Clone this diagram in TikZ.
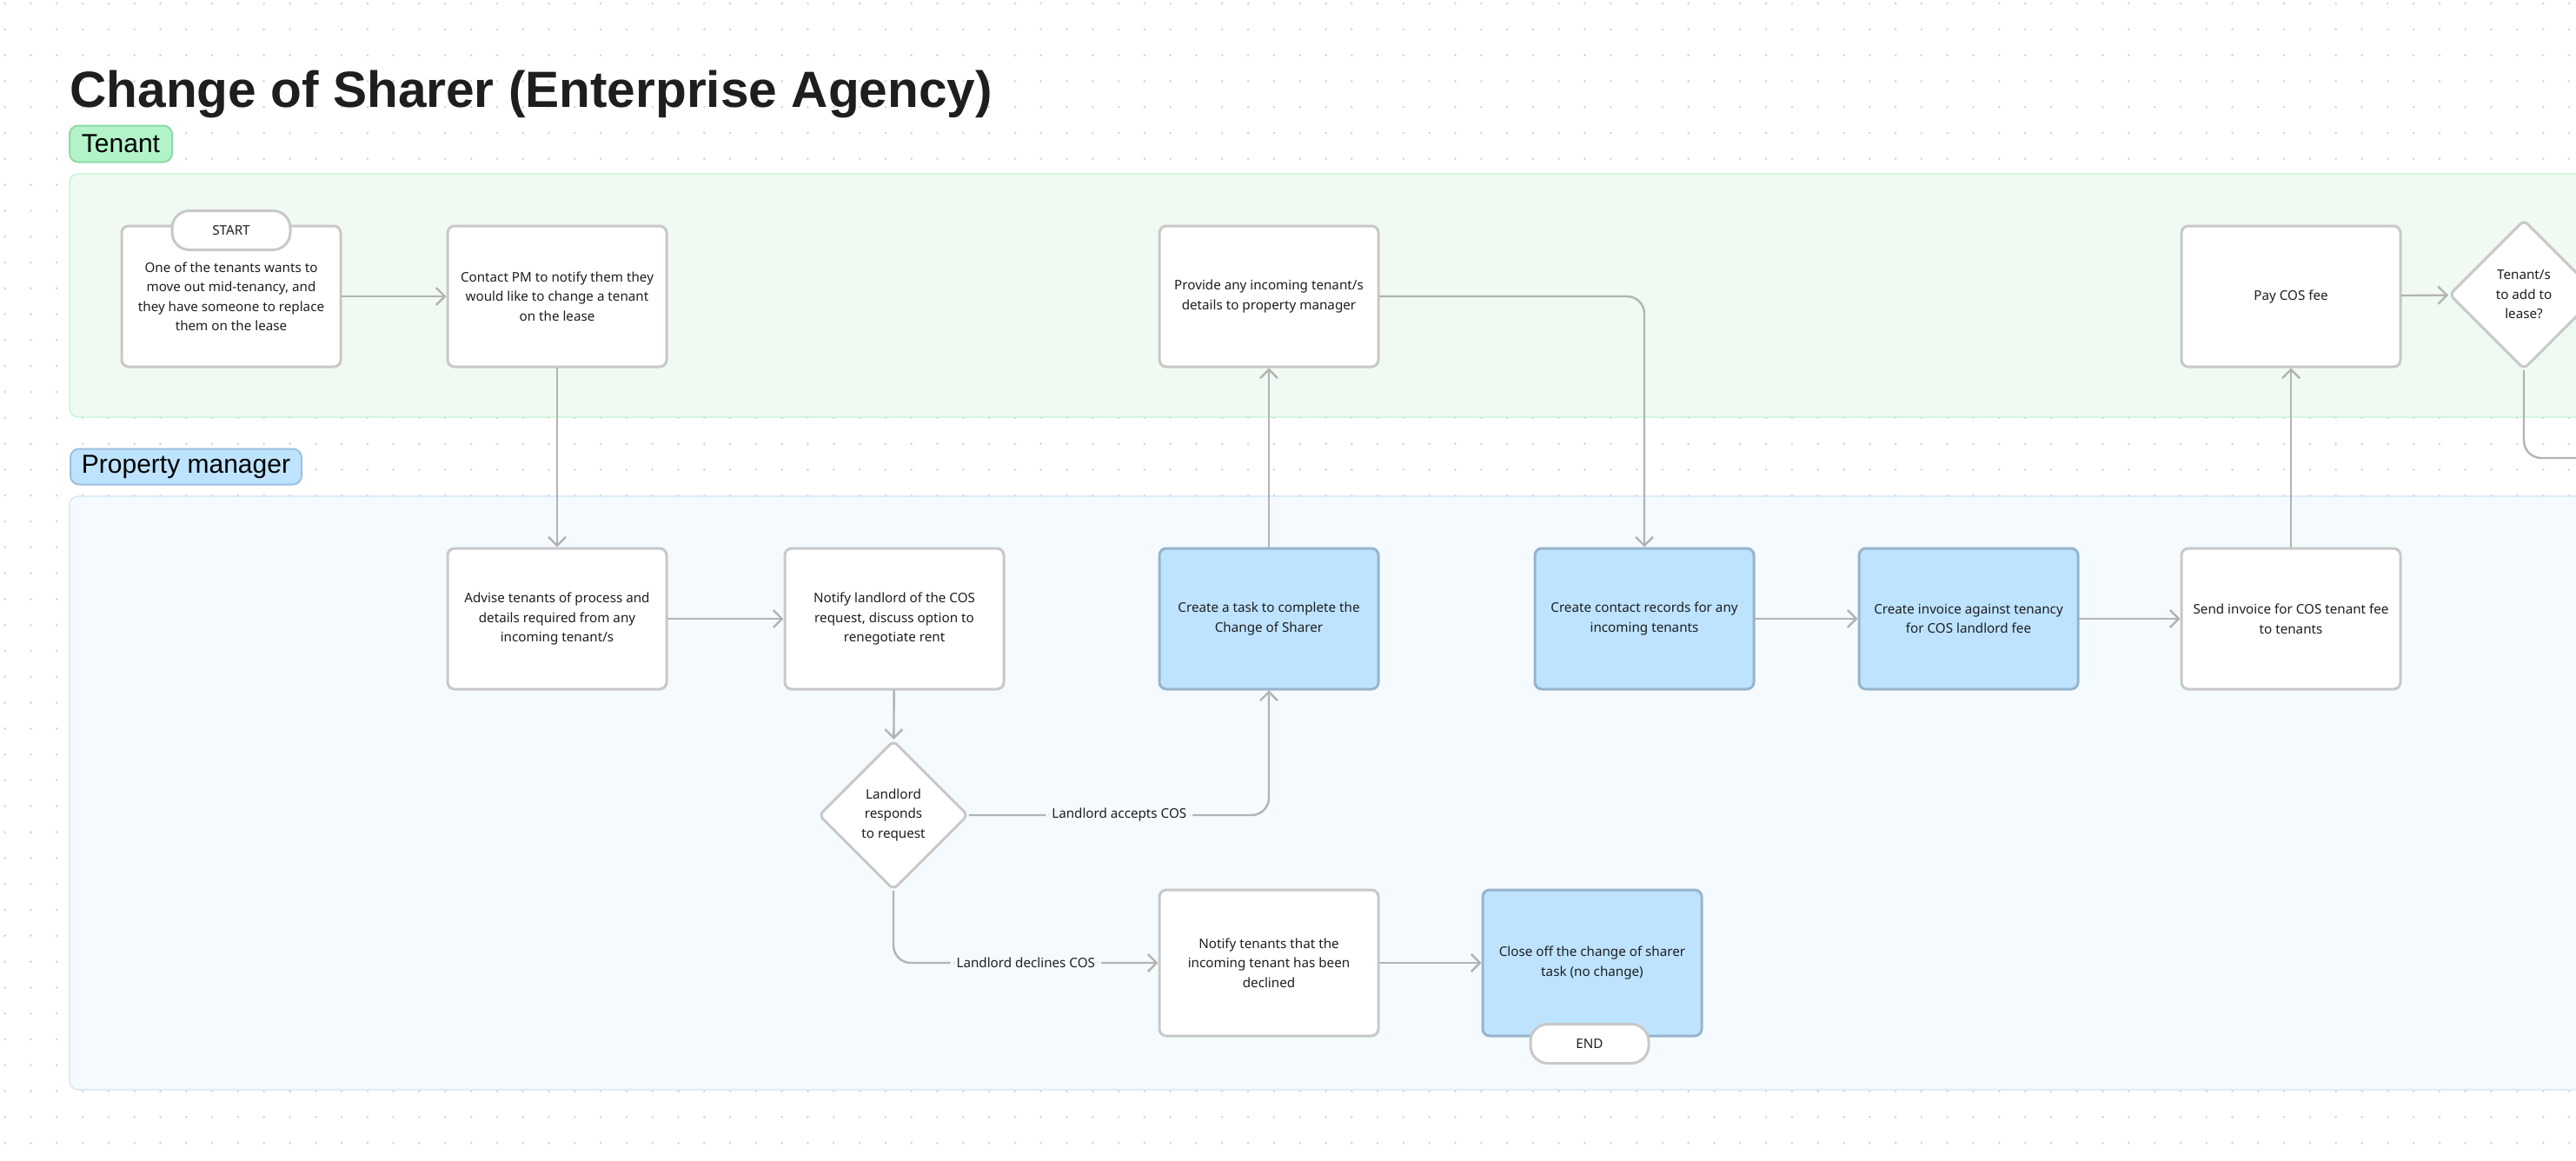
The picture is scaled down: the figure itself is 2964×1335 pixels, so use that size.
\documentclass[tikz,border=0pt]{standalone}
\usepackage{fontspec}
\setmainfont{Noto Sans}
\newfontfamily\titlefont{Liberation Sans}
\usetikzlibrary{arrows.meta,positioning,shapes.geometric}
\definecolor{cosink}{HTML}{1E1E1E}
\definecolor{cosedge}{HTML}{C8C8C8}
\definecolor{cosflow}{HTML}{B3B3B3}
\definecolor{cosdot}{HTML}{D2D2D2}
\definecolor{taskfill}{HTML}{BDE3FF}
\definecolor{taskedge}{HTML}{97B4CC}
\definecolor{tenfill}{HTML}{F0FAF3}
\definecolor{tenedge}{HTML}{C4F1D3}
\definecolor{tenlbl}{HTML}{B3F3C8}
\definecolor{tenlbledge}{HTML}{8FD9A8}
\definecolor{pmfill}{HTML}{F5FAFF}
\definecolor{pmedge}{HTML}{CDE6FA}
\definecolor{pmlbl}{HTML}{BDE3FF}
\definecolor{pmlbledge}{HTML}{9DC0DE}
\tikzset{
  proc/.style={rectangle, draw=cosedge, fill=white, line width=1.5pt, rounded corners=4pt, align=center, minimum width=126pt, minimum height=81pt, inner sep=2pt},
  task/.style={proc, draw=taskedge, fill=taskfill},
  dec/.style={diamond, aspect=1, draw=cosedge, fill=white, line width=1.5pt, rounded corners=3pt, align=center, minimum size=86pt, inner sep=0pt},
  term/.style={rectangle, draw=cosedge, fill=white, line width=1.5pt, rounded corners=10pt, minimum width=68pt, minimum height=22.5pt, inner sep=0pt},
  lane/.style={line width=0.6pt, rounded corners=5pt},
  lanelbl/.style={rectangle, rounded corners=5pt, line width=1pt, inner sep=0pt, font=\titlefont\fontsize{15}{17}\selectfont, text=black},
  flow/.style={draw=cosflow, line width=1.2pt, line cap=round, rounded corners=10pt, -{Straight Barb[length=5pt, width=10pt, line width=1.2pt]}},
  elbl/.style={fill=pmfill, inner xsep=3.5pt, inner ysep=1pt},
}
\begin{document}
\begin{tikzpicture}[x=0.5pt, y=-0.5pt, font=\fontsize{7.6}{11.25}\selectfont, text=cosink]
  \useasboundingbox (0,0) rectangle (2964,1335);
  \clip (0,0) rectangle (2964,1335);
  % dotted canvas
  \foreach \i in {0,...,99}
    \foreach \j in {0,...,44}
      \fill[cosdot] (5.7+\i*29.8, 4+\j*29.8) circle (0.7pt);
  % title and swimlanes
  \node[anchor=base west, inner sep=0pt, font=\titlefont\bfseries\fontsize{29.3}{32}\selectfont, text=cosink] (title) at (80,123) {Change of Sharer (Enterprise Agency)};
  \fill[lane, fill=tenfill, draw=tenedge] (80,200) rectangle (3100,480);
  \fill[lane, fill=pmfill, draw=pmedge] (80,571) rectangle (3100,1254);
  \node[lanelbl, fill=tenlbl, draw=tenlbledge, minimum width=59pt, minimum height=21pt] (tenant) at (139,165.5) {Tenant};
  \node[lanelbl, fill=pmlbl, draw=pmlbledge, minimum width=133pt, minimum height=20.5pt] (pm) at (214,537) {Property manager};
  % tenant lane
  \node[proc] (want) at (266,341) {One of the tenants wants to\\move out mid-tenancy, and\\they have someone to replace\\them on the lease};
  \node[term] (start) at (266,265) {START};
  \node[proc] (contact) at (641,341) {Contact PM to notify them they\\would like to change a tenant\\on the lease};
  \node[proc] (provide) at (1460,341) {Provide any incoming tenant/s\\details to property manager};
  \node[proc] (pay) at (2636,341) {Pay COS fee};
  \node[dec] (addq) at (2904,339) {Tenant/s\\to add to\\lease?};
  \coordinate (offright) at (3060,527);
  % property manager lane
  \node[proc] (advise) at (641,712) {Advise tenants of process and\\details required from any\\incoming tenant/s};
  \node[proc] (notifyll) at (1029,712) {Notify landlord of the COS\\request, discuss option to\\renegotiate rent};
  \node[task] (mktask) at (1460,712) {Create a task to complete the\\Change of Sharer};
  \node[task] (contacts) at (1892,712) {Create contact records for any\\incoming tenants};
  \node[task] (invoice) at (2265,712) {Create invoice against tenancy\\for COS landlord fee};
  \node[proc] (sendinv) at (2636,712) {Send invoice for COS tenant fee\\to tenants};
  \node[dec] (respond) at (1028,938) {Landlord\\responds\\to request};
  \node[proc, minimum height=84pt] (declined) at (1460,1108) {Notify tenants that the\\incoming tenant has been\\declined};
  \node[task, minimum height=84pt] (closeoff) at (1832,1108) {Close off the change of sharer\\task (no change)};
  \node[term] (finish) at (1829,1201) {END};
  % connectors
  \draw[flow] (want) -- (contact);
  \draw[flow] (contact) -- (advise);
  \draw[flow] (advise) -- (notifyll);
  \draw[flow] (notifyll) -- (respond);
  \draw[flow] (respond.east) -| node[elbl, pos=0.25] {Landlord accepts COS} (mktask.south);
  \draw[flow] (respond.south) |- node[elbl, pos=0.75] {Landlord declines COS} (declined.west);
  \draw[flow] (mktask) -- (provide);
  \draw[flow] (provide.east) -| (contacts.north);
  \draw[flow] (contacts) -- (invoice);
  \draw[flow] (invoice) -- (sendinv);
  \draw[flow] (sendinv) -- (pay);
  \draw[flow] (pay) -- (addq);
  \draw[flow, -] (addq.south) |- (offright);
  \draw[flow] (declined) -- (closeoff);
\end{tikzpicture}
\end{document}
